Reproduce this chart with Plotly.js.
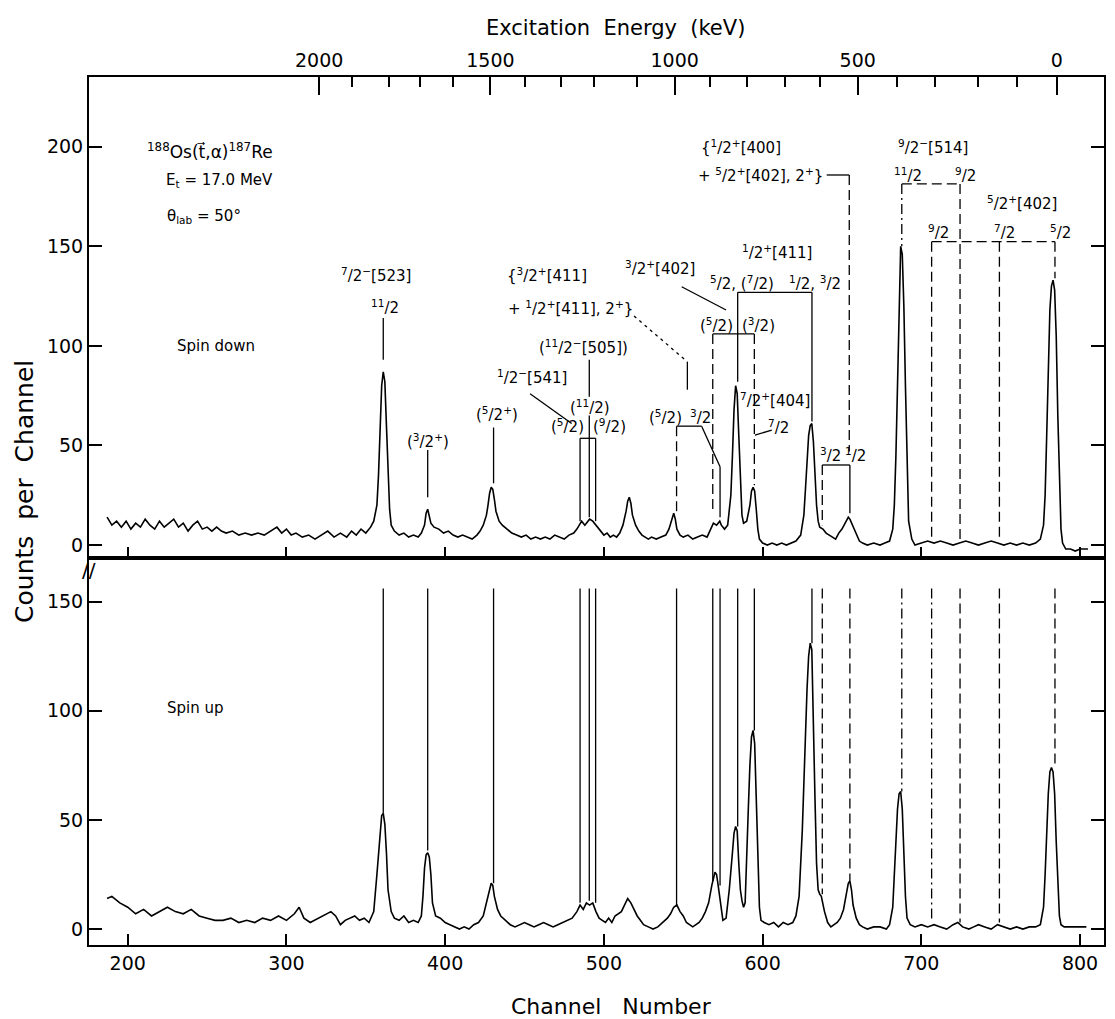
<!DOCTYPE html>
<html>
<head>
<meta charset="utf-8">
<script src="https://cdn.plot.ly/plotly-3.0.1.min.js"></script>
<style>html,body{margin:0;padding:0;background:#fff;}</style>
</head>
<body>
<div id="chart" style="width:1115px;height:1019px;"></div>
<script>
// ---------- data ----------
const channelTicks = [200, 300, 400, 500, 600, 700, 800];
const countTicksTop = [0, 50, 100, 150, 200];
const countTicksBottom = [0, 50, 100, 150];

const energyMajorLabels = ['2000', '1500', '1000', '500', '0'];
const energyMajorChannels = [320.6, 428.5, 544.6, 659.9, 785.3];
const energyMinorChannels = [341.1, 364.5, 384.4, 405.0, 450.3, 473.0, 493.6, 521.0,
                             566.8, 589.9, 614.1, 636.2, 684.5, 708.6, 735.9, 760.1];

// spin down spectrum: [channel, counts]
const spinDown = [
 [187,14],[190,10],[193,12],[196,9],[199,12],[202,8],[205,11],[208,9],[211,13],[214,10],
 [217,8],[220,12],[223,9],[226,11],[229,13],[232,9],[235,11],[238,7],[241,10],[244,12],
 [247,8],[250,9],[253,7],[256,9],[259,7],[262,6],[266,7],[270,5],[274,6],[278,5],
 [282,6],[286,5],[290,7],[294,9],[297,6],[300,8],[303,5],[306,6],[310,4],[314,5],
 [318,3],[322,5],[326,7],[330,4],[334,6],[338,4],[341,7],[344,5],[347,8],[350,6],
 [353,9],[355,12],[357,20],[358,35],[359,58],[360,80],[361,87],[362,82],[363,60],[364,35],
 [365,18],[366,10],[368,7],[371,5],[374,6],[377,4],[380,5],[383,4],[385,6],[387,10],
 [388,16],[389,18],[390,15],[391,11],[393,9],[396,8],[399,6],[402,7],[405,5],[408,4],
 [411,5],[414,4],[417,3],[420,5],[422,7],[424,10],[426,15],[427,20],[428,26],[429,29],
 [430,28],[431,23],[432,17],[434,12],[436,10],[439,8],[442,6],[445,5],[448,4],[451,5],
 [454,3],[457,4],[460,3],[463,4],[466,3],[469,5],[472,4],[475,3],[478,5],[481,6],
 [483,8],[485,11],[486,12],[488,10],[490,12],[491,13],[493,12],[494,11],[496,9],[498,7],
 [500,5],[502,6],[504,4],[506,5],[508,4],[510,6],[512,10],[514,17],[515,22],[516,24],
 [517,21],[518,15],[520,10],[522,7],[524,5],[526,4],[528,3],[530,4],[533,3],[536,4],
 [539,5],[541,8],[543,14],[544,16],[545,13],[546,8],[548,5],[550,4],[553,5],[556,3],
 [559,4],[562,5],[565,4],[567,8],[569,11],[571,10],[573,12],[574,10],[576,8],[578,10],
 [580,25],[581,45],[582,68],[583,80],[584,76],[585,55],[586,30],[587,15],[588,11],[590,12],
 [592,20],[593,27],[594,29],[595,27],[596,18],[597,8],[598,3],[600,1],[603,0],[606,1],
 [609,0],[612,1],[615,0],[618,1],[621,2],[624,5],[626,15],[627,28],[628,42],[629,55],
 [630,60],[631,61],[632,52],[633,35],[634,20],[635,12],[636,9],[638,8],[640,6],[642,5],
 [644,4],[646,3],[648,6],[650,8],[652,11],[653,13],[654,14],[655,13],[657,9],[659,5],
 [661,2],[663,1],[666,0],[670,1],[674,0],[677,1],[680,2],[682,8],[683,20],[684,45],
 [685,85],[686,125],[687,150],[688,146],[689,120],[690,80],[691,38],[692,12],[694,3],[696,0],
 [700,1],[704,2],[708,1],[712,2],[716,1],[720,0],[724,1],[728,2],[732,1],[736,0],
 [740,1],[744,2],[748,1],[752,0],[756,1],[760,0],[764,1],[768,0],[772,1],[775,3],
 [777,10],[778,25],[779,55],[780,90],[781,118],[782,130],[783,133],[784,128],[785,105],[786,65],
 [787,28],[788,8],[789,1],[791,-2],[794,-2],[797,-3],[800,-2],[803,-2],[805,-2]
];

// spin up spectrum: [channel, counts]
const spinUp = [
 [187,14],[190,15],[195,12],[200,10],[205,7],[210,9],[215,6],[220,8],[225,10],[230,8],
 [235,7],[240,9],[245,6],[250,5],[255,4],[260,4],[265,5],[270,3],[275,4],[280,3],
 [285,5],[290,4],[295,6],[300,4],[305,7],[308,10],[311,5],[315,3],[320,5],[325,7],
 [328,8],[331,6],[334,2],[337,4],[340,5],[343,6],[346,4],[349,5],[352,3],[355,8],
 [357,25],[359,45],[360,52],[361,53],[362,48],[363,35],[364,18],[366,8],[368,5],[371,4],
 [374,6],[377,3],[380,4],[383,3],[385,6],[386,15],[387,28],[388,34],[389,35],[390,33],
 [391,25],[392,12],[394,6],[397,5],[400,3],[403,2],[406,1],[409,0],[412,1],[415,0],
 [418,2],[421,3],[424,6],[426,12],[428,18],[429,21],[430,20],[431,15],[433,9],[435,6],
 [438,4],[441,2],[444,1],[447,2],[450,3],[453,2],[456,1],[459,2],[462,3],[465,2],
 [468,1],[471,2],[474,3],[477,4],[480,5],[483,8],[485,11],[487,9],[489,12],[491,11],
 [493,12],[495,8],[497,5],[499,4],[501,3],[503,5],[505,3],[507,6],[509,7],[511,8],
 [513,11],[515,14],[517,12],[519,9],[521,6],[523,4],[525,2],[528,1],[531,0],[534,1],
 [537,3],[540,5],[542,7],[544,10],[546,11],[548,8],[550,6],[552,3],[554,2],[556,1],
 [558,2],[560,3],[562,5],[564,8],[566,12],[568,20],[570,26],[571,25],[572,20],[574,8],
 [575,4],[577,5],[579,18],[581,35],[582,44],[583,47],[584,45],[585,30],[586,18],[587,13],
 [588,10],[589,12],[590,30],[591,55],[592,75],[593,88],[594,91],[595,85],[596,60],[597,30],
 [598,10],[599,4],[601,3],[604,2],[607,3],[610,1],[613,3],[616,2],[619,3],[621,6],
 [623,15],[625,45],[626,70],[627,90],[628,110],[629,125],[630,131],[631,128],[632,100],[633,60],
 [634,30],[635,18],[636,16],[637,15],[639,8],[641,3],[643,1],[645,2],[647,3],[649,5],
 [651,9],[653,17],[654,21],[655,22],[656,18],[657,11],[659,5],[661,2],[663,1],[666,0],
 [670,1],[674,1],[678,0],[680,2],[682,10],[683,25],[684,40],[685,55],[686,62],[687,63],
 [688,55],[689,35],[690,15],[691,5],[693,2],[696,1],[700,2],[704,1],[708,2],[712,1],
 [716,0],[720,2],[723,3],[726,1],[730,0],[733,1],[736,2],[740,1],[744,0],[748,2],
 [752,1],[756,0],[760,1],[764,0],[768,1],[772,1],[775,2],[777,10],[778,25],[779,45],
 [780,62],[781,72],[782,74],[783,72],[784,62],[785,40],[786,18],[787,6],[788,2],[790,1],
 [793,1],[796,1],[800,1],[804,1]
];

// level-scheme guide segments in the upper panel: [ch0, counts0, ch1, counts1, style]
const topGuides = [
 [361,114,361,93,'solid'],
 [389,47.7,389,24,'solid'],
 [430.5,59,430.5,31,'solid'],
 [453.5,76,479.7,61,'solid'],
 [490.8,93,490.8,74.5,'solid'],
 [485,53.6,494.8,53.6,'solid'],
 [485,53.6,485,12,'solid'],
 [494.8,53.6,494.8,12,'solid'],
 [490.8,65,490.8,14,'solid'],
 [519,115,552.6,92,'dot'],
 [552.6,92,552.6,78,'solid'],
 [549,129.7,577,118,'solid'],
 [568.6,106,594.8,106,'solid'],
 [568.6,106,568.6,16,'dash'],
 [594.8,106,594.8,30,'dash'],
 [545.8,59.7,561.6,59.7,'solid'],
 [561.6,59.7,573.2,39.3,'solid'],
 [573.2,39.3,573.2,14,'solid'],
 [545.8,59.7,545.8,17,'dash'],
 [584.3,126.9,631.1,126.9,'solid'],
 [584.3,126.9,584.3,82,'solid'],
 [631.1,126.9,631.1,62,'solid'],
 [605.8,57.7,595.2,55.2,'solid'],
 [637.6,40.2,655,40.2,'solid'],
 [637.6,40.2,637.6,10,'dash'],
 [655,40.2,655,16,'solid'],
 [640.4,185.8,654.6,185.8,'solid'],
 [654.6,185.8,654.6,47,'dash'],
 [687.7,181.3,724.4,181.3,'dash'],
 [687.7,181.3,687.7,150,'dashdot'],
 [724.4,181.3,724.4,3,'dash'],
 [706.5,152.3,784.2,152.3,'dash'],
 [706.5,152.3,706.5,3,'dash'],
 [749.2,152.3,749.2,3,'dash'],
 [784.2,152.3,784.2,134,'dash']
];

// vertical guides in the lower panel: channel, lower end (counts), style
const bottomGuideChannels = [361,389,430.5,485,490.8,494.8,545.8,568.6,573.2,584.3,594.8,631.1,637.6,655,687.7,706.5,724.4,749.2,784.2];
const bottomGuideEnds     = [53,36,21,12,13,12,11,22,20,47,91,131,16,22,63,3,3,3,74];
const bottomGuideStyles   = ['solid','solid','solid','solid','solid','solid','solid','solid','solid','solid','solid','solid','dash','dash','dashdot','dashdot','dash','dash','dash'];
const bottomGuideTop = 156;

// text labels: [text, channel, counts, panel]
const labels = [
 ['<sup>188</sup>Os(t\u20D7,\u03B1)<sup>187</sup>Re', 252, 198, 'top'],
 ['E<sub>t</sub> = 17.0 MeV', 258, 183, 'top'],
 ['\u03B8<sub>lab</sub> = 50\u00B0', 248, 165, 'top'],
 ['Spin down', 255.6, 100, 'top'],
 ['<sup>7</sup>/2<sup>\u2212</sup>[523]', 356.5, 135.6, 'top'],
 ['<sup>11</sup>/2', 362, 119.7, 'top'],
 ['(<sup>3</sup>/2<sup>+</sup>)', 389, 52, 'top'],
 ['(<sup>5</sup>/2<sup>+</sup>)', 432.7, 66, 'top'],
 ['<sup>1</sup>/2<sup>\u2212</sup>[541]', 454.6, 84.5, 'top'],
 ['(<sup>11</sup>/2<sup>\u2212</sup>[505])', 487, 99.6, 'top'],
 ['(<sup>11</sup>/2)', 491.3, 69.5, 'top'],
 ['(<sup>5</sup>/2)', 477, 60, 'top'],
 ['(<sup>9</sup>/2)', 503.5, 60, 'top'],
 ['{<sup>3</sup>/2<sup>+</sup>[411]', 464, 135.6, 'top'],
 ['+ <sup>1</sup>/2<sup>+</sup>[411], 2<sup>+</sup>}', 479, 119, 'top'],
 ['<sup>3</sup>/2<sup>+</sup>[402]', 535.5, 139, 'top'],
 ['(<sup>5</sup>/2)', 538.6, 64.4, 'top'],
 ['<sup>3</sup>/2', 560.6, 64.4, 'top'],
 ['(<sup>5</sup>/2)', 571, 110.5, 'top'],
 ['(<sup>3</sup>/2)', 597.7, 110.5, 'top'],
 ['<sup>1</sup>/2<sup>+</sup>[411]', 609, 147.3, 'top'],
 ['<sup>5</sup>/2, (<sup>7</sup>/2)', 587, 131.7, 'top'],
 ['<sup>1</sup>/2, <sup>3</sup>/2', 633, 131.7, 'top'],
 ['<sup>7</sup>/2<sup>+</sup>[404]', 608, 72.8, 'top'],
 ['<sup>7</sup>/2', 610, 59.4, 'top'],
 ['<sup>3</sup>/2', 642.6, 45.2, 'top'],
 ['<sup>1</sup>/2', 658.3, 45.2, 'top'],
 ['{<sup>1</sup>/2<sup>+</sup>[400]', 586.5, 199.7, 'top'],
 ['+ <sup>5</sup>/2<sup>+</sup>[402], 2<sup>+</sup>}', 598.5, 185.8, 'top'],
 ['<sup>9</sup>/2<sup>\u2212</sup>[514]', 707.5, 199.7, 'top'],
 ['<sup>11</sup>/2', 691.7, 185.8, 'top'],
 ['<sup>9</sup>/2', 727.6, 185.8, 'top'],
 ['<sup>5</sup>/2<sup>+</sup>[402]', 763.5, 171.6, 'top'],
 ['<sup>9</sup>/2', 710.6, 157.3, 'top'],
 ['<sup>7</sup>/2', 752.7, 157.3, 'top'],
 ['<sup>5</sup>/2', 787.4, 157.3, 'top'],
 ['Spin up', 243, 101.5, 'bottom']
];

// ---------- drawing ----------
const xRange = [175.6, 815.1];
const FONT = 'DejaVu Sans, Liberation Sans, sans-serif';
const dashMap = {solid:'solid', dash:'10px,5px', dot:'3px,4px', dashdot:'10px,4px,2px,4px'};

const traces = [
 {x: spinDown.map(p => p[0]), y: spinDown.map(p => p[1]), xaxis:'x', yaxis:'y',
  type:'scatter', mode:'lines', line:{color:'black', width:1.6}, hoverinfo:'x+y'},
 {x: spinUp.map(p => p[0]), y: spinUp.map(p => p[1]), xaxis:'x2', yaxis:'y2',
  type:'scatter', mode:'lines', line:{color:'black', width:1.6}, hoverinfo:'x+y'},
 {x: energyMajorChannels, y: energyMajorChannels.map(() => null), xaxis:'x3', yaxis:'y',
  type:'scatter', mode:'markers', showlegend:false, hoverinfo:'skip'},
 {x: energyMinorChannels, y: energyMinorChannels.map(() => null), xaxis:'x4', yaxis:'y',
  type:'scatter', mode:'markers', showlegend:false, hoverinfo:'skip'}
];

const shapes = [];
topGuides.forEach(g => shapes.push({type:'line', xref:'x', yref:'y', x0:g[0], y0:g[1], x1:g[2], y1:g[3],
  line:{color:'black', width:1.3, dash:dashMap[g[4]]}}));
bottomGuideChannels.forEach((c, i) => shapes.push({type:'line', xref:'x2', yref:'y2', x0:c, y0:bottomGuideTop, x1:c, y1:bottomGuideEnds[i],
  line:{color:'black', width:1.3, dash:dashMap[bottomGuideStyles[i]]}}));

const annotations = labels.map(l => ({
  text:l[0], x:l[1], y:l[2], xref: l[3] === 'top' ? 'x' : 'x2', yref: l[3] === 'top' ? 'y' : 'y2',
  showarrow:false, xanchor:'center', yanchor:'middle',
  font:{family:FONT, size: (l[0].indexOf('Os(') >= 0 ? 17 : 15), color:'black'}
}));
annotations.push(
 {text:'Excitation  Energy  (keV)', xref:'paper', yref:'paper', x:0.519, y:1.057, showarrow:false,
  xanchor:'center', yanchor:'middle', font:{family:FONT, size:21, color:'black'}},
 {text:'Channel\u00A0\u00A0\u00A0Number', xref:'paper', yref:'paper', x:0.515, y:-0.0703, showarrow:false,
  xanchor:'center', yanchor:'middle', font:{family:FONT, size:22, color:'black'}},
 {text:'Counts\u00A0\u00A0per\u00A0\u00A0Channel', xref:'paper', yref:'paper', x:-0.063, y:0.522, showarrow:false,
  textangle:-90, xanchor:'center', yanchor:'middle', font:{family:FONT, size:25, color:'black'}},
 {text:'//', xref:'paper', yref:'paper', x:0.0, y:0.432, showarrow:false,
  xanchor:'center', yanchor:'middle', font:{family:FONT, size:20, color:'black'}}
);

const axisCommon = {showgrid:false, zeroline:false, showline:true, linecolor:'black', linewidth:2,
  tickcolor:'black', tickwidth:2, ticks:'inside', tickfont:{family:FONT, size:19, color:'black'}};
const SPLIT = 0.44585;

const layout = {
 width:1115, height:1019,
 margin:{l:89, r:11, t:77, b:74},
 paper_bgcolor:'white', plot_bgcolor:'white', showlegend:false,
 font:{family:FONT, color:'black'},
 xaxis:Object.assign({}, axisCommon, {domain:[0,1], anchor:'y', range:xRange, tickmode:'array',
   tickvals:channelTicks, showticklabels:false, ticklen:11}),
 yaxis:Object.assign({}, axisCommon, {domain:[SPLIT,1], anchor:'x', range:[-6.5,235], tickmode:'array',
   tickvals:countTicksTop, ticklen:13, mirror:'ticks'}),
 xaxis2:Object.assign({}, axisCommon, {domain:[0,1], anchor:'y2', range:xRange, tickmode:'array',
   tickvals:channelTicks, ticklen:11, mirror:true}),
 yaxis2:Object.assign({}, axisCommon, {domain:[0,SPLIT], anchor:'x2', range:[-7.3,170], tickmode:'array',
   tickvals:countTicksBottom, ticklen:13, mirror:'ticks'}),
 xaxis3:Object.assign({}, axisCommon, {overlaying:'x', anchor:'y', side:'top', range:xRange, tickmode:'array',
   tickvals:energyMajorChannels, ticktext:energyMajorLabels, ticklen:18}),
 xaxis4:Object.assign({}, axisCommon, {overlaying:'x', anchor:'y', side:'top', range:xRange, tickmode:'array',
   tickvals:energyMinorChannels, showticklabels:false, ticklen:10, showline:false}),
 shapes:shapes,
 annotations:annotations
};

Plotly.newPlot('chart', traces, layout, {displayModeBar:false, staticPlot:true});
</script>
</body>
</html>
